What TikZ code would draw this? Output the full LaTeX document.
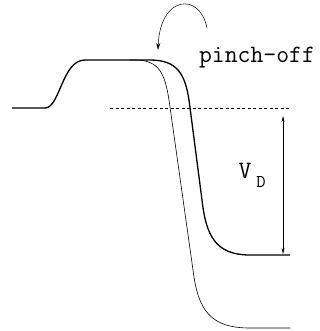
\documentclass[tikz,border=0pt]{standalone}
\usetikzlibrary{arrows.meta}
\begin{document}
\begin{tikzpicture}[x=1pt,y=-1pt,
  thickcurve/.style={line width=1.3pt},
  thincurve/.style={line width=0.6pt},
  lbl/.style={font=\ttfamily\fontsize{25}{25}\selectfont, inner sep=0pt, anchor=base},
  sublbl/.style={font=\ttfamily\fontsize{18}{18}\selectfont, inner sep=0pt, anchor=base},
  dim/.style={line width=0.5pt, {Stealth[length=6pt,width=3pt]}-{Stealth[length=6pt,width=3pt]}}]
\useasboundingbox (0,0) rectangle (320,331);
% thin curve
\draw[thincurve] (130,60) -- (135,60) .. controls (160,60) and (165,75) .. (169,100) -- (193,270) .. controls (198,310) and (210,328) .. (250,328) -- (290,328);
% thick curve
\draw[thickcurve] (12,108) -- (45,108) .. controls (60,108) and (62,60) .. (85,60) -- (150,60) .. controls (178,60) and (185,75) .. (189,100) -- (202,200) .. controls (206,235) and (215,255) .. (250,255) -- (290,255);
% dashed reference
\coordinate (dl) at (110,108);
\coordinate (dr) at (290,108);
\draw[line width=0.5pt, dash pattern=on 3pt off 2.5pt] (dl) -- (dr);
% V_D dimension
\coordinate (vt) at (283,116);
\coordinate (vb) at (283,254);
\draw[dim] (vt) -- (vb);
\node[lbl] (v) at (245,178) {V};
\node[sublbl] (d) at (261,187) {D};
% pinch-off
\node[lbl] (po) at (257,63) {pinch-off};
\coordinate (as) at (207,28);
\coordinate (ae) at (158,50);
\draw[line width=0.5pt, -{Stealth[length=7pt,width=4pt]}] (as) .. controls (200,-8) and (160,-5) .. (ae);
\end{tikzpicture}
\end{document}
